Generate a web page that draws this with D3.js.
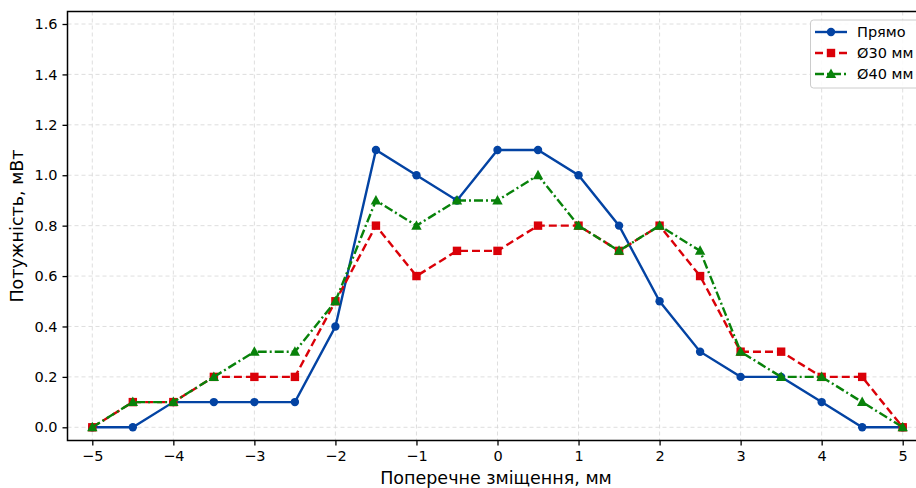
<!DOCTYPE html>
<html>
<head>
<meta charset="utf-8">
<script src="https://cdn.jsdelivr.net/npm/d3@7"></script>
<style>
  body { margin: 0; background: #fff; }
  text { font-family: "DejaVu Sans", sans-serif; }
</style>
</head>
<body>
<svg id="chart" width="916" height="488"></svg>
<script>
// data
const offsets = [-5, -4.5, -4, -3.5, -3, -2.5, -2, -1.5, -1, -0.5, 0, 0.5, 1, 1.5, 2, 2.5, 3, 3.5, 4, 4.5, 5];
const pryamo = [0, 0, 0.1, 0.1, 0.1, 0.1, 0.4, 1.1, 1.0, 0.9, 1.1, 1.1, 1.0, 0.8, 0.5, 0.3, 0.2, 0.2, 0.1, 0, 0];
const d30 = [0, 0.1, 0.1, 0.2, 0.2, 0.2, 0.5, 0.8, 0.6, 0.7, 0.7, 0.8, 0.8, 0.7, 0.8, 0.6, 0.3, 0.3, 0.2, 0.2, 0];
const d40 = [0, 0.1, 0.1, 0.2, 0.3, 0.3, 0.5, 0.9, 0.8, 0.9, 0.9, 1.0, 0.8, 0.7, 0.8, 0.7, 0.3, 0.2, 0.2, 0.1, 0];
const xTicks = [-5, -4, -3, -2, -1, 0, 1, 2, 3, 4, 5];
const yTicks = [0, 0.2, 0.4, 0.6, 0.8, 1.0, 1.2, 1.4, 1.6];

const series = [
    { name: 'Прямо', values: pryamo, color: '#0343a3', dash: null, marker: 'circle' },
    { name: 'Ø30 мм', values: d30, color: '#da0008', dash: '8,4', marker: 'square' },
    { name: 'Ø40 мм', values: d40, color: '#08820a', dash: '9,3,2,3', marker: 'triangle' },
];

const svg = d3.select('#chart');
const plotL = 67.5, plotT = 11.5, plotB = 440.5, plotR = 927;

const x = d3.scaleLinear().domain([-5, 5]).range([92.3, 902.7]);
const y = d3.scaleLinear().domain([0, 1.6]).range([427.3, 24]);

// grid
const grid = svg.append('g');
xTicks.forEach(t => grid.append('line')
    .attr('x1', x(t)).attr('x2', x(t)).attr('y1', plotT).attr('y2', plotB)
    .attr('stroke', '#d6d6d6').attr('stroke-width', 0.8).attr('stroke-dasharray', '4,3'));
yTicks.forEach(t => grid.append('line')
    .attr('x1', plotL).attr('x2', plotR).attr('y1', y(t)).attr('y2', y(t))
    .attr('stroke', '#d6d6d6').attr('stroke-width', 0.8).attr('stroke-dasharray', '4,3'));

// axes
const xAxis = d3.axisBottom(x).tickValues(xTicks).tickSize(5).tickPadding(5)
    .tickFormat(d => d < 0 ? '\u2212' + Math.abs(d) : d);
const yAxis = d3.axisLeft(y).tickValues(yTicks).tickSize(5).tickPadding(5)
    .tickFormat(d3.format('.1f'));

const gx = svg.append('g').attr('transform', `translate(0,${plotB})`).call(xAxis);
const gy = svg.append('g').attr('transform', `translate(${plotL},0)`).call(yAxis);
[gx, gy].forEach(g => {
    g.select('.domain').remove();
    g.selectAll('.tick line').attr('stroke', '#000').attr('stroke-width', 1.3);
    g.selectAll('.tick text').attr('fill', '#000').style('font-size', '14.5px');
});

// frame
svg.append('rect')
    .attr('x', plotL).attr('y', plotT).attr('width', plotR - plotL).attr('height', plotB - plotT)
    .attr('fill', 'none').attr('stroke', '#000').attr('stroke-width', 1.5);

const line = d3.line().x((d, i) => x(offsets[i])).y(d => y(d));

function drawMarker(g, shape, cx, cy, color) {
    switch (shape) {
        case 'circle':
            return g.append('circle').attr('cx', cx).attr('cy', cy).attr('r', 4.2).attr('fill', color);
        case 'square':
            return g.append('rect').attr('x', cx - 4.2).attr('y', cy - 4.2)
                .attr('width', 8.4).attr('height', 8.4).attr('fill', color);
        case 'triangle':
            return g.append('path')
                .attr('d', `M${cx},${cy - 5.5}L${cx + 5.2},${cy + 4}L${cx - 5.2},${cy + 4}Z`)
                .attr('fill', color);
    }
}

series.forEach(s => {
    const g = svg.append('g');
    g.append('path').datum(s.values)
        .attr('d', line)
        .attr('fill', 'none')
        .attr('stroke', s.color)
        .attr('stroke-width', 2.4)
        .attr('stroke-dasharray', s.dash);
    s.values.forEach((v, i) => drawMarker(g, s.marker, x(offsets[i]), y(v), s.color));
});

// legend
const lg = svg.append('g');
lg.append('rect').attr('x', 810.5).attr('y', 20).attr('width', 110).attr('height', 68)
    .attr('rx', 3).attr('fill', '#fff').attr('fill-opacity', 0.85)
    .attr('stroke', '#ccc').attr('stroke-width', 1);
series.forEach((s, i) => {
    const ly = 32 + i * 21;
    lg.append('line').attr('x1', 815).attr('x2', 847).attr('y1', ly).attr('y2', ly)
        .attr('stroke', s.color).attr('stroke-width', 2.4).attr('stroke-dasharray', s.dash);
    drawMarker(lg, s.marker, 831, ly, s.color);
    lg.append('text').attr('x', 857).attr('y', ly).attr('dy', '0.35em')
        .style('font-size', '14.5px').text(s.name);
});

// axis titles
svg.append('text').attr('x', 496).attr('y', 484)
    .attr('text-anchor', 'middle').style('font-size', '17.5px')
    .text('Поперечне зміщення, мм');
svg.append('text').attr('transform', 'translate(23,226) rotate(-90)')
    .attr('text-anchor', 'middle').style('font-size', '17.5px')
    .text('Потужність, мВт');
</script>
</body>
</html>
